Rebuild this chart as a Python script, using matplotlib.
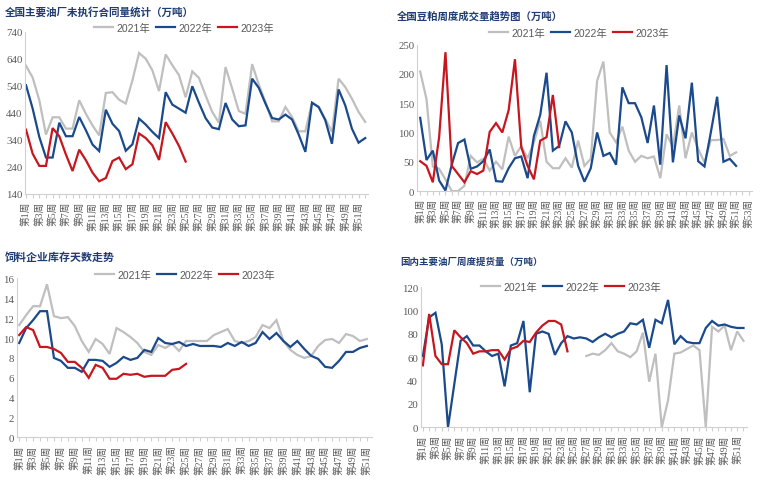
import matplotlib.pyplot as plt

plt.rcParams['font.family'] = ['Liberation Serif', 'Noto Sans CJK SC']

GRAY = '#BFBFBF'
BLUE = '#1A4A8C'
RED = '#C8161E'
TITLE_C = '#1F3C74'
TICK_C = '#595959'
SPINE_C = '#D0D0D0'

# 全国主要油厂未执行合同量统计（万吨）
oil_2021 = [615, 571, 487, 360, 424, 424, 382, 382, 487, 437, 394, 357, 514, 517, 489, 475,
            561, 662, 641, 598, 521, 657, 617, 580, 498, 594, 570, 505, 444, 404, 610, 530,
            447, 437, 621, 545, 481, 409, 409, 462, 425, 372, 372, 478, 462, 418, 370, 567,
            536, 493, 444, 407]
oil_2022 = [543, 456, 351, 275, 275, 404, 354, 354, 425, 376, 323, 299, 452, 400, 373, 300,
            324, 419, 397, 370, 347, 517, 471, 456, 441, 539, 478, 421, 386, 380, 477, 416,
            391, 394, 567, 533, 475, 421, 416, 434, 416, 360, 296, 478, 462, 413, 326, 527,
            468, 382, 330, 347]
oil_2023 = [378, 289, 244, 244, 384, 354, 286, 225, 304, 265, 219, 187, 199, 262, 275, 232,
            250, 364, 347, 320, 266, 406, 364, 318, 260]

# 全国豆粕周度成交量趋势图（万吨）
meal_2021 = [204, 157, 42, 38, 20, 0, 0, 9, 60, 49, 55, 35, 50, 37, 93, 60, 77, 56, 83, 120,
             50, 39, 39, 56, 40, 86, 43, 55, 188, 221, 100, 83, 110, 69, 50, 60, 56, 59, 22,
             97, 75, 146, 56, 100, 72, 49, 87, 87, 89, 60, 66]
meal_2022 = [125, 53, 69, 18, 1, 45, 82, 88, 38, 42, 51, 71, 17, 16, 39, 56, 59, 22, 94, 130,
             202, 69, 77, 119, 100, 43, 16, 39, 100, 60, 65, 45, 177, 150, 150, 126, 82, 146,
             45, 215, 49, 129, 90, 185, 51, 42, 100, 161, 50, 55, 43]
meal_2023 = [51, 43, 15, 92, 237, 43, 29, 15, 34, 29, 35, 101, 116, 100, 138, 225, 75, 43,
             20, 86, 92, 164, 75]

# 饲料企业库存天数走势
days_2021 = [11.3, 12.3, 13.2, 13.2, 15.4, 12.2, 12.0, 12.1, 11.2, 9.7, 8.6, 9.9, 9.4, 8.4,
             11.0, 10.6, 10.1, 9.5, 8.6, 8.3, 9.3, 9.0, 9.4, 8.7, 9.7, 9.7, 9.7, 9.7, 10.3,
             10.6, 10.9, 9.7, 9.5, 9.7, 10.1, 11.3, 11.0, 11.8, 9.7, 8.8, 8.3, 8.0, 8.2, 9.2,
             9.8, 9.9, 9.5, 10.4, 10.2, 9.7, 9.9]
days_2022 = [9.5, 11.0, 11.8, 12.7, 12.7, 8.0, 7.7, 7.0, 7.0, 6.6, 7.8, 7.8, 7.7, 7.1, 7.5,
             8.1, 7.8, 8.0, 8.8, 8.6, 10.0, 9.5, 9.4, 9.6, 9.2, 9.4, 9.2, 9.2, 9.2, 9.1, 9.5,
             9.2, 9.6, 9.2, 9.5, 10.6, 9.9, 10.5, 9.7, 9.1, 9.7, 8.9, 8.2, 7.9, 7.1, 7.0, 7.7,
             8.6, 8.6, 9.0, 9.2]
days_2023 = [10.3, 11.1, 10.8, 9.1, 9.1, 8.9, 8.5, 7.6, 7.6, 7.0, 6.0, 7.3, 7.0, 5.9, 5.9,
             6.4, 6.3, 6.4, 6.1, 6.2, 6.2, 6.2, 6.8, 6.9, 7.4]

# 国内主要油厂周度提货量（万吨）
lift_2021 = [None] * 26 + [61, 63, 62, 66, 72, 65, 63, 60, 65, 81, 39, 63, 0, 23, 63, 64,
                           67, 70, 66, 0, 86, 82, 87, 66, 82, 74]
lift_2022 = [61, 94, 98, 71, 0, 37, 74, 78, 70, 70, 65, 61, 63, 35, 70, 72, 91, 30, 80, 82,
             80, 62, 72, 78, 76, 77, 76, 73, 77, 80, 77, 80, 82, 89, 88, 92, 68, 92, 89, 109,
             71, 78, 73, 72, 72, 85, 91, 87, 88, 86, 85, 85]
lift_2023 = [53, 97, 61, 54, 54, 83, 77, 72, 63, 65, 65, 66, 66, 58, 67, 69, 74, 73, 81, 87,
             91, 91, 88, 65]

years = ['2021年', '2022年', '2023年']

fig = plt.figure(figsize=(7.68, 4.85), dpi=100)


def panel(rect, series, ylim, yticks, nlabel, xlim, title, title_pos, title_size, leg_pos):
    ax = fig.add_axes(rect)
    lines = []
    for vals, col in zip(series, [GRAY, BLUE, RED]):
        weeks = list(range(1, len(vals) + 1))
        ys = [float('nan') if v is None else v for v in vals]
        ln, = ax.plot(weeks, ys, color=col, lw=1.6, solid_joinstyle='miter')
        lines.append(ln)
    ax.set_ylim(*ylim)
    ax.set_yticks(yticks)
    ax.set_xlim(*xlim)
    wk = list(range(1, nlabel + 1))
    ax.set_xticks(wk)
    ax.set_xticklabels([f'第{w}周' if w % 2 == 1 else '' for w in wk],
                       rotation=90, fontsize=7, color=TICK_C)
    ax.tick_params(axis='y', labelsize=7.8, colors=TICK_C, length=0, pad=2)
    ax.tick_params(axis='x', length=3, color=SPINE_C, pad=2)
    for s in ['top', 'right']:
        ax.spines[s].set_visible(False)
    for s in ['left', 'bottom']:
        ax.spines[s].set_color(SPINE_C)
        ax.spines[s].set_linewidth(0.8)
    fig.text(title_pos[0], title_pos[1], title, fontsize=title_size, color=TITLE_C,
             fontweight='bold', family=['Noto Sans CJK SC'], va='center')
    fig.legend(lines, years, loc='center', bbox_to_anchor=leg_pos, ncol=3, frameon=False,
               handlelength=1.8, columnspacing=0.6, handletextpad=0.3,
               prop={'family': ['Liberation Sans', 'Noto Sans CJK SC'], 'size': 7.5},
               labelcolor=TICK_C)
    return ax


panel([0.033, 0.598, 0.446, 0.334], [oil_2021, oil_2022, oil_2023],
      (140, 740), range(140, 741, 100), 52, (0.9, 52.4),
      '全国主要油厂未执行合同量统计（万吨）', (0.006, 1 - 12 / 485), 7.6,
      (184 / 768, 1 - 29 / 485))

panel([0.543, 0.604, 0.436, 0.302], [meal_2021, meal_2022, meal_2023],
      (0, 250), range(0, 251, 50), 53, (0.5, 53.5),
      '全国豆粕周度成交量趋势图（万吨）', (397 / 768, 1 - 16 / 485), 7.5,
      (579 / 768, 1 - 34 / 485))

panel([0.022, 0.096, 0.462, 0.328], [days_2021, days_2022, days_2023],
      (0, 16), range(0, 17, 2), 51, (0.67, 51.7),
      '饲料企业库存天数走势', (0.006, 1 - 258 / 485), 7.9,
      (185 / 768, 1 - 276 / 485))

panel([0.548, 0.117, 0.425, 0.289], [lift_2021, lift_2022, lift_2023],
      (0, 120), range(0, 121, 20), 52, (0.68, 52.6),
      '国内主要油厂周度提货量（万吨）', (400 / 768, 1 - 262 / 485), 6.8,
      (571 / 768, 1 - 288 / 485))

fig.savefig('out.png', dpi=100)
